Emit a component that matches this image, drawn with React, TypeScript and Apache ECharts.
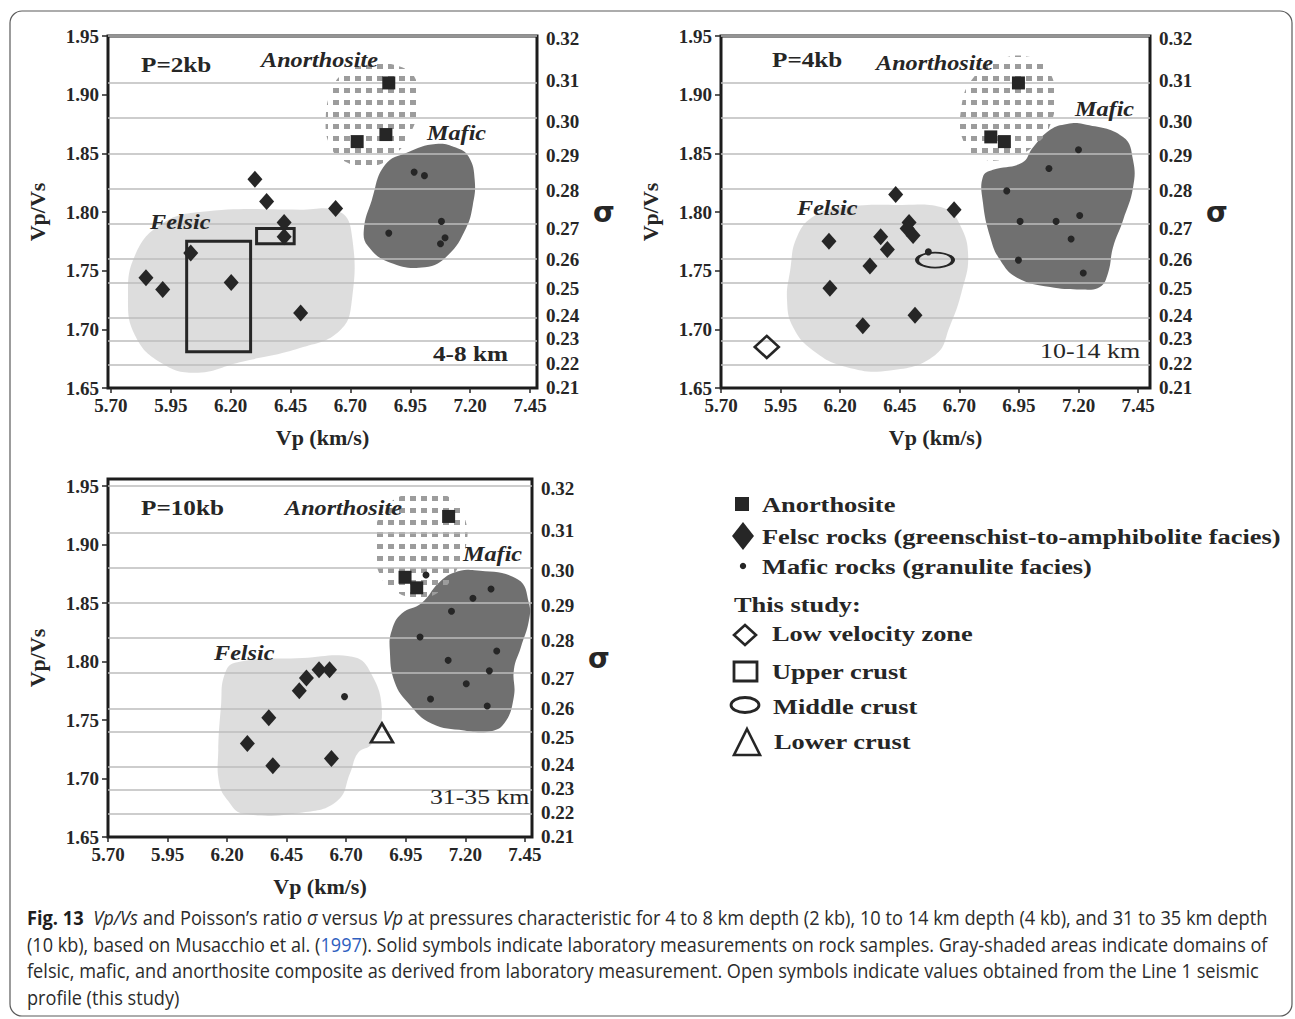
import React, { useEffect, useRef } from "react";
import * as echarts from "echarts";

// ---- axis ticks -------------------------------------------------------
const vpTicks = [5.7, 5.95, 6.2, 6.45, 6.7, 6.95, 7.2, 7.45];
const ratioTicks = [1.65, 1.7, 1.75, 1.8, 1.85, 1.9, 1.95];
const sigmaLabels = ["0.32", "0.31", "0.30", "0.29", "0.28", "0.27", "0.26", "0.25", "0.24", "0.23", "0.22", "0.21"];
// Vp/Vs level at which each Poisson's ratio gridline is drawn
const sigmaAtRatio = [1.9478, 1.9118, 1.8774, 1.8481, 1.8181, 1.7858, 1.7598, 1.7352, 1.7122, 1.6918, 1.6707, 1.6503];

// ---- P = 2 kb (4-8 km) ------------------------------------------------
const kb2Anorthosite = [[6.86, 1.91], [6.728, 1.86], [6.848, 1.866]];
const kb2Felsic = [
  [6.301, 1.828], [6.35, 1.809], [6.423, 1.791], [6.423, 1.779], [6.033, 1.765],
  [5.846, 1.744], [5.916, 1.734], [6.202, 1.74], [6.492, 1.714], [6.638, 1.803],
];
const kb2Mafic = [[6.966, 1.834], [7.009, 1.831], [7.08, 1.792], [6.86, 1.782], [7.095, 1.778], [7.076, 1.773]];
// upper crust ranges: [vpMin, vpMax, ratioMin, ratioMax]
const kb2UpperCrust = [[6.016, 6.283, 1.681, 1.775], [6.308, 6.465, 1.773, 1.786]];
const kb2FelsicArea = [
  [5.771, 1.727], [5.8, 1.763], [5.905, 1.789], [6.071, 1.8], [6.489, 1.802], [6.656, 1.8],
  [6.706, 1.78], [6.706, 1.725], [6.656, 1.699], [6.489, 1.684], [6.238, 1.672], [6.051, 1.663],
  [5.905, 1.672], [5.8, 1.695],
];
const kb2MaficArea = [
  [7.056, 1.858], [7.14, 1.855], [7.194, 1.847], [7.219, 1.827], [7.211, 1.806], [7.182, 1.786],
  [7.106, 1.763], [7.011, 1.753], [6.864, 1.757], [6.773, 1.771], [6.756, 1.785], [6.789, 1.81],
  [6.844, 1.84], [6.94, 1.851],
];
const kb2AnorthositeArea = [
  [6.677, 1.919], [6.789, 1.926], [6.906, 1.924], [6.973, 1.913], [6.985, 1.891], [6.948, 1.866],
  [6.885, 1.849], [6.789, 1.839], [6.677, 1.843], [6.614, 1.857], [6.597, 1.88], [6.622, 1.904],
];

// ---- P = 4 kb (10-14 km) ----------------------------------------------
const kb4Anorthosite = [[6.948, 1.91], [6.832, 1.864], [6.889, 1.86]];
const kb4Felsic = [
  [6.433, 1.815], [6.678, 1.802], [6.489, 1.791], [6.481, 1.786], [6.506, 1.78], [6.37, 1.779],
  [6.398, 1.768], [6.153, 1.775], [6.325, 1.754], [6.157, 1.735], [6.295, 1.703], [6.514, 1.712],
];
const kb4Mafic = [
  [6.57, 1.766], [7.2, 1.853], [7.076, 1.837], [6.899, 1.818], [6.955, 1.792], [7.106, 1.792],
  [7.205, 1.797], [7.169, 1.777], [6.948, 1.759], [7.22, 1.748],
];
const kb4LowVelocity = [[5.892, 1.685]];
const kb4MiddleCrust = [[6.598, 1.759]];
const kb4FelsicArea = [
  [6.212, 1.804], [6.451, 1.806], [6.64, 1.803], [6.703, 1.789], [6.737, 1.763], [6.711, 1.733],
  [6.661, 1.703], [6.598, 1.678], [6.409, 1.665], [6.225, 1.668], [6.086, 1.682], [6.002, 1.702],
  [5.977, 1.725], [5.99, 1.75], [6.019, 1.779], [6.094, 1.797],
];
const kb4MaficArea = [
  [7.219, 1.875], [7.387, 1.864], [7.429, 1.844], [7.429, 1.821], [7.387, 1.793], [7.345, 1.77],
  [7.324, 1.748], [7.29, 1.736], [7.219, 1.734], [7.081, 1.736], [6.942, 1.744], [6.871, 1.759],
  [6.829, 1.779], [6.799, 1.808], [6.799, 1.83], [6.841, 1.836], [6.963, 1.842], [7.009, 1.855],
  [7.081, 1.87], [7.152, 1.875],
];
const kb4AnorthositeArea = [
  [6.871, 1.93], [6.997, 1.932], [7.072, 1.921], [7.102, 1.9], [7.081, 1.874], [7.018, 1.857],
  [6.913, 1.846], [6.787, 1.846], [6.716, 1.861], [6.707, 1.887], [6.753, 1.913],
];

// ---- P = 10 kb (31-35 km) ---------------------------------------------
const kb10Anorthosite = [[7.13, 1.924], [6.947, 1.872], [6.996, 1.863]];
const kb10Felsic = [
  [6.586, 1.793], [6.63, 1.793], [6.533, 1.786], [6.503, 1.775], [6.375, 1.752], [6.285, 1.73],
  [6.392, 1.711], [6.638, 1.717],
];
const kb10Mafic = [
  [7.035, 1.874], [7.308, 1.862], [7.232, 1.854], [7.142, 1.843], [7.01, 1.821], [7.332, 1.809],
  [7.128, 1.801], [7.301, 1.792], [7.204, 1.781], [7.054, 1.768], [7.292, 1.762], [6.693, 1.77],
];
const kb10LowerCrust = [[6.85, 1.739]];
const kb10FelsicArea = [
  [6.233, 1.799], [6.517, 1.803], [6.725, 1.804], [6.796, 1.793], [6.85, 1.758], [6.808, 1.73],
  [6.75, 1.722], [6.717, 1.705], [6.663, 1.681], [6.517, 1.671], [6.267, 1.67], [6.204, 1.681],
  [6.167, 1.696], [6.163, 1.724], [6.175, 1.764], [6.188, 1.788],
];
const kb10MaficArea = [
  [7.238, 1.878], [7.421, 1.87], [7.467, 1.85], [7.467, 1.835], [7.433, 1.812], [7.404, 1.793],
  [7.404, 1.77], [7.363, 1.747], [7.296, 1.74], [7.196, 1.741], [7.058, 1.747], [6.963, 1.764],
  [6.904, 1.782], [6.883, 1.81], [6.892, 1.827], [6.933, 1.841], [7.017, 1.85], [7.088, 1.867],
  [7.154, 1.876],
];
const kb10AnorthositeArea = [
  [6.925, 1.941], [7.038, 1.945], [7.15, 1.938], [7.2, 1.921], [7.204, 1.9], [7.163, 1.878],
  [7.1, 1.861], [7.017, 1.855], [6.913, 1.859], [6.842, 1.874], [6.821, 1.9], [6.842, 1.925],
];

const SERIF = "'Liberation Serif', 'Times New Roman', serif";
const SANS = "'Open Sans', 'Noto Sans', sans-serif";
const INK = "#262626";

// dotted fill used for the anorthosite domain
function checker() {
  const c = document.createElement("canvas");
  c.width = 11;
  c.height = 12;
  const ctx = c.getContext("2d");
  if (ctx) {
    ctx.fillStyle = "#9c9c9c";
    ctx.fillRect(3, 4, 6, 5);
  }
  return { image: c, repeat: "repeat", imageWidth: 11, imageHeight: 12 } as any;
}

function area(panel: number, pts: number[][], style: any, z: number) {
  return {
    type: "custom",
    xAxisIndex: panel,
    yAxisIndex: panel * 2,
    data: [pts[0]],
    silent: true,
    z,
    renderItem: (_p: any, api: any) => ({
      type: "polygon",
      shape: { points: pts.map((p) => api.coord(p)), smooth: 0.45 },
      style,
    }),
  };
}

function marks(panel: number, data: number[][], symbol: string, size: any, filled: boolean) {
  return {
    type: "scatter",
    xAxisIndex: panel,
    yAxisIndex: panel * 2,
    data,
    symbol,
    symbolSize: size,
    silent: true,
    z: 5,
    itemStyle: filled
      ? { color: INK, opacity: 1 }
      : { color: "rgba(255,255,255,0)", borderColor: INK, borderWidth: 2.6, opacity: 1 },
  };
}

function rangeBoxes(panel: number, data: number[][]) {
  return {
    type: "custom",
    xAxisIndex: panel,
    yAxisIndex: panel * 2,
    data,
    silent: true,
    z: 5,
    encode: { x: [0, 1], y: [2, 3] },
    renderItem: (_p: any, api: any) => {
      const a = api.coord([api.value(0), api.value(3)]);
      const b = api.coord([api.value(1), api.value(2)]);
      return {
        type: "rect",
        shape: { x: a[0], y: a[1], width: b[0] - a[0], height: b[1] - a[1] },
        style: { fill: "none", stroke: INK, lineWidth: 3 },
      };
    },
  };
}

function sigmaLines(panel: number) {
  return {
    type: "line",
    xAxisIndex: panel,
    yAxisIndex: panel * 2,
    data: [],
    silent: true,
    z: 2,
    markLine: {
      silent: true,
      symbol: ["none", "none"],
      label: { show: false },
      lineStyle: { color: "#bdbdbd", width: 1.6, type: "solid" },
      data: sigmaAtRatio.slice(0, 11).map((v) => ({ yAxis: v })),
    },
  };
}

const tickLabel = { color: INK, fontFamily: SERIF, fontWeight: "bold", fontSize: 19 };

function axesFor(panel: number, xr: number[], yr: number[]) {
  const x = {
    type: "value",
    gridIndex: panel,
    min: xr[0],
    max: xr[1],
    axisLine: { show: false },
    splitLine: { show: false },
    axisTick: { show: true, customValues: vpTicks, length: 5, lineStyle: { color: INK, width: 1.5 } },
    axisLabel: { ...tickLabel, customValues: vpTicks, margin: 8, formatter: (v: number) => v.toFixed(2) },
    name: "Vp (km/s)",
    nameLocation: "middle",
    nameGap: 38,
    nameTextStyle: { color: INK, fontFamily: SERIF, fontWeight: "bold", fontSize: 22 },
  };
  const yl = {
    type: "value",
    gridIndex: panel,
    position: "left",
    min: yr[0],
    max: yr[1],
    axisLine: { show: false },
    splitLine: { show: false },
    axisTick: { show: true, customValues: ratioTicks, length: 6, lineStyle: { color: INK, width: 1.5 } },
    axisLabel: { ...tickLabel, customValues: ratioTicks, margin: 9, formatter: (v: number) => v.toFixed(2) },
    name: "Vp/Vs",
    nameLocation: "middle",
    nameGap: 60,
    nameTextStyle: { color: INK, fontFamily: SERIF, fontWeight: "bold", fontSize: 22 },
  };
  const yr2 = {
    type: "value",
    gridIndex: panel,
    position: "right",
    min: yr[0],
    max: yr[1],
    axisLine: { show: false },
    axisTick: { show: false },
    splitLine: { show: false },
    axisLabel: {
      ...tickLabel,
      customValues: sigmaAtRatio,
      margin: 9,
      formatter: (v: number) => {
        let best = 0;
        sigmaAtRatio.forEach((s, i) => {
          if (Math.abs(s - v) < Math.abs(sigmaAtRatio[best] - v)) best = i;
        });
        return sigmaLabels[best];
      },
    },
    name: "σ",
    nameLocation: "middle",
    nameRotate: 0,
    nameGap: 56,
    nameTextStyle: { color: INK, fontFamily: "'DejaVu Sans', sans-serif", fontWeight: "bold", fontSize: 28 },
  };
  return { x, yl, yr2 };
}

// text stretched sideways a little, like the figure's wide-set lettering
function txt(x: number, y: number, text: string, opt: any = {}) {
  return {
    type: "text",
    x,
    y,
    scaleX: opt.sx || 1.2,
    silent: true,
    z: 10,
    style: {
      text,
      fill: INK,
      font: opt.font || `bold 21px ${SERIF}`,
      textAlign: "left",
      textVerticalAlign: "middle",
    },
  };
}

const italicLabel = `italic bold 22px ${SERIF}`;

export default function App() {
  const ref = useRef<HTMLDivElement>(null);

  useEffect(() => {
    document.body.style.margin = "0";
    if (!ref.current) return;
    const chart = echarts.init(ref.current, undefined, { renderer: "svg" });

    const a0 = axesFor(0, [5.6875, 7.479], [1.65, 1.95]);
    const a1 = axesFor(1, [5.7, 7.5], [1.65, 1.95]);
    const a2 = axesFor(2, [5.7, 7.48], [1.65, 1.956]);

    const felsicStyle = { fill: "rgba(160,160,160,0.36)" };
    const maficStyle = { fill: "rgba(38,38,38,0.66)" };
    const anoStyle = { fill: checker() };

    const diamond = [15, 17];
    const panelSeries = (
      p: number,
      fa: number[][],
      ma: number[][],
      aa: number[][],
      ano: number[][],
      fel: number[][],
      maf: number[][]
    ) => [
      area(p, fa, felsicStyle, 1),
      area(p, ma, maficStyle, 1),
      area(p, aa, anoStyle, 1),
      sigmaLines(p),
      marks(p, ano, "rect", 13, true),
      marks(p, fel, "diamond", diamond, true),
      marks(p, maf, "circle", 7, true),
    ];

    const legendFont = `bold 22px ${SERIF}`;
    const capFont = `20px ${SANS}`;
    const capRich = {
      b: { fontWeight: "bold", fontSize: 20, fontFamily: SANS, fill: "#1e1e1e" },
      i: { fontStyle: "italic", fontSize: 20, fontFamily: SANS, fill: "#2b2b2b" },
      l: { fontSize: 20, fontFamily: SANS, fill: "#2f5fc0" },
    };
    const capLine = (y: number, sx: number, text: string) => ({
      type: "text",
      silent: true,
      x: 27,
      y,
      scaleX: sx,
      style: { fill: "#2b2b2b", font: capFont, textVerticalAlign: "middle", text, rich: capRich },
    });

    chart.setOption({
      animation: false,
      backgroundColor: "#ffffff",
      grid: [
        { left: 108, top: 36, width: 429, height: 352, show: true, borderColor: "#1c1c1c", borderWidth: 3 },
        { left: 721, top: 36, width: 429, height: 352, show: true, borderColor: "#1c1c1c", borderWidth: 3 },
        { left: 108, top: 479, width: 424, height: 358, show: true, borderColor: "#1c1c1c", borderWidth: 3 },
      ],
      xAxis: [a0.x, a1.x, a2.x],
      yAxis: [a0.yl, a0.yr2, a1.yl, a1.yr2, a2.yl, a2.yr2],
      series: [
        ...panelSeries(0, kb2FelsicArea, kb2MaficArea, kb2AnorthositeArea, kb2Anorthosite, kb2Felsic, kb2Mafic),
        rangeBoxes(0, kb2UpperCrust),
        ...panelSeries(1, kb4FelsicArea, kb4MaficArea, kb4AnorthositeArea, kb4Anorthosite, kb4Felsic, kb4Mafic),
        marks(1, kb4LowVelocity, "diamond", [24, 22], false),
        marks(1, kb4MiddleCrust, "circle", [36, 15], false),
        ...panelSeries(2, kb10FelsicArea, kb10MaficArea, kb10AnorthositeArea, kb10Anorthosite, kb10Felsic, kb10Mafic),
        marks(2, kb10LowerCrust, "triangle", [22, 19], false),
      ],
      graphic: [
        // figure frame
        {
          type: "rect",
          silent: true,
          z: 0,
          shape: { x: 10, y: 11, width: 1282, height: 1005, r: 12 },
          style: { fill: "none", stroke: "#5a5a5a", lineWidth: 1.2 },
        },
        // panel annotations
        txt(141, 65, "P=2kb"),
        txt(261, 59, "Anorthosite", { font: italicLabel, sx: 1.1 }),
        txt(427, 132, "Mafic", { font: italicLabel, sx: 1.1 }),
        txt(150, 221, "Felsic", { font: italicLabel, sx: 1.1 }),
        txt(433, 354, "4-8 km"),
        txt(772, 60, "P=4kb"),
        txt(876, 62, "Anorthosite", { font: italicLabel, sx: 1.1 }),
        txt(1075, 108, "Mafic", { font: italicLabel, sx: 1.1 }),
        txt(797, 207, "Felsic", { font: italicLabel, sx: 1.1 }),
        txt(1040, 351, "10-14 km", { font: `22px ${SERIF}`, sx: 1.18 }),
        txt(141, 508, "P=10kb"),
        txt(285, 507, "Anorthosite", { font: italicLabel, sx: 1.1 }),
        txt(463, 553, "Mafic", { font: italicLabel, sx: 1.1 }),
        txt(214, 652, "Felsic", { font: italicLabel, sx: 1.1 }),
        txt(430, 797, "31-35 km", { font: `22px ${SERIF}`, sx: 1.17 }),
        // legend symbols
        { type: "rect", silent: true, shape: { x: 735, y: 497, width: 14, height: 14 }, style: { fill: INK } },
        {
          type: "polygon",
          silent: true,
          shape: { points: [[743, 522], [754, 536], [743, 550], [732, 536]] },
          style: { fill: INK },
        },
        { type: "circle", silent: true, shape: { cx: 743, cy: 566, r: 3.2 }, style: { fill: INK } },
        {
          type: "polygon",
          silent: true,
          shape: { points: [[745, 625], [756, 635], [745, 645], [734, 635]] },
          style: { fill: "none", stroke: INK, lineWidth: 2.6 },
        },
        {
          type: "rect",
          silent: true,
          shape: { x: 734, y: 662, width: 23, height: 19 },
          style: { fill: "none", stroke: INK, lineWidth: 2.8 },
        },
        {
          type: "ellipse",
          silent: true,
          shape: { cx: 745, cy: 705, rx: 14, ry: 7.5 },
          style: { fill: "none", stroke: INK, lineWidth: 2.8 },
        },
        {
          type: "polygon",
          silent: true,
          shape: { points: [[747, 729], [760, 755], [734, 755]] },
          style: { fill: "none", stroke: INK, lineWidth: 2.6 },
        },
        txt(762, 504, "Anorthosite", { font: legendFont }),
        txt(762, 536, "Felsc rocks (greenschist-to-amphibolite facies)", { font: legendFont }),
        txt(762, 566, "Mafic rocks (granulite facies)", { font: legendFont }),
        txt(734, 604, "This study:", { font: legendFont }),
        txt(772, 633, "Low velocity zone", { font: legendFont }),
        txt(772, 671, "Upper crust", { font: legendFont }),
        txt(773, 706, "Middle crust", { font: legendFont }),
        txt(774, 741, "Lower crust", { font: legendFont }),
        // caption
        capLine(
          918,
          0.912,
          "{b|Fig. 13}  {i|Vp/Vs} and Poisson’s ratio {i|σ} versus {i|Vp} at pressures characteristic for 4 to 8 km depth (2 kb), 10 to 14 km depth (4 kb), and 31 to 35 km depth"
        ),
        capLine(
          945,
          0.904,
          "(10 kb), based on Musacchio et al. ({l|1997}). Solid symbols indicate laboratory measurements on rock samples. Gray-shaded areas indicate domains of"
        ),
        capLine(
          971,
          0.908,
          "felsic, mafic, and anorthosite composite as derived from laboratory measurement. Open symbols indicate values obtained from the Line 1 seismic"
        ),
        capLine(998, 0.908, "profile (this study)"),
      ],
    });

    return () => chart.dispose();
  }, []);

  return <div ref={ref} style={{ width: 1295, height: 1019, overflow: "hidden" }} />;
}
